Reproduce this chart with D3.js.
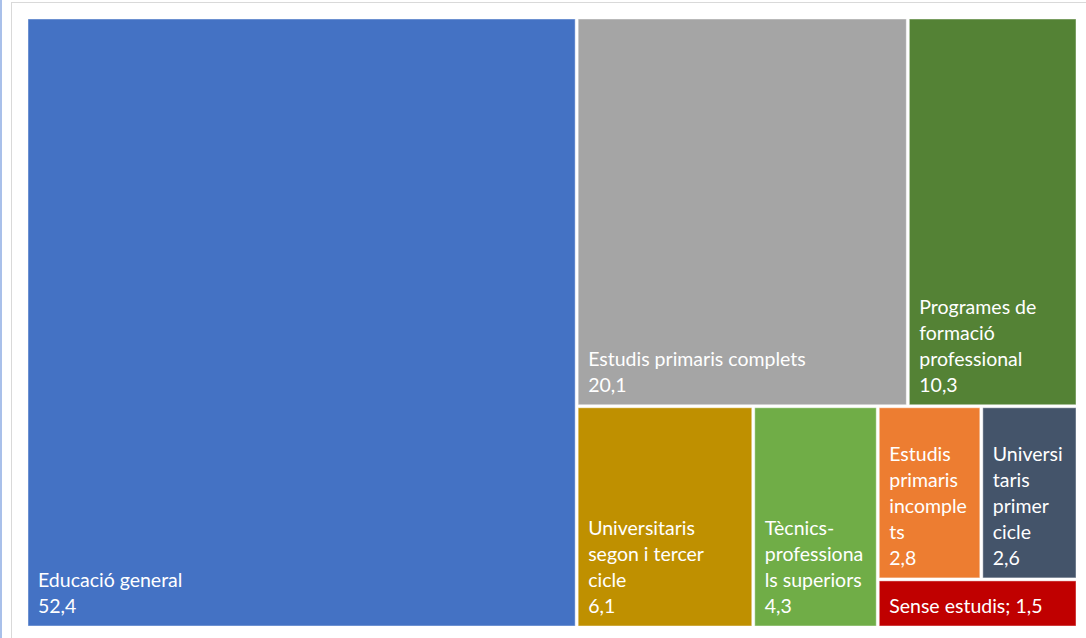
<!DOCTYPE html>
<html lang="ca">
<head>
  <meta charset="UTF-8">
  <title>Treemap</title>
  <style>
  body {
    margin: 0;
    background: #fff;
  }
  .label {
    font: 19.5px Lato, "Open Sans", sans-serif;
    fill: #fff;
  }
  </style>
</head>
<body>
  <svg width="1086" height="638"></svg>
  <script src="https://cdnjs.cloudflare.com/ajax/libs/d3/7.8.5/d3.min.js"></script>
  <script>
  // categories, values and colours (in chart order)
  var categories = ["Educació general", "Estudis primaris complets", "Programes de formació professional",
    "Universitaris segon i tercer cicle", "Tècnics-professionals superiors", "Estudis primaris incomplets",
    "Universitaris primer cicle", "Sense estudis"];
  var values = [52.4, 20.1, 10.3, 6.1, 4.3, 2.8, 2.6, 1.5];
  var colors = ["#4472C4", "#A5A5A5", "#548235", "#BF9000", "#70AD47", "#ED7D31", "#44546A", "#C00000"];
  // labels as the chart wraps them
  var labelLines = [
    ["Educació general"],
    ["Estudis primaris complets"],
    ["Programes de", "formació", "professional"],
    ["Universitaris", "segon i tercer", "cicle"],
    ["Tècnics-", "professiona", "ls superiors"],
    ["Estudis", "primaris", "incomple", "ts"],
    ["Universi", "taris", "primer", "cicle"],
    ["Sense estudis"]
  ];
  var inlineValue = [false, false, false, false, false, false, false, true];

  var svg = d3.select("svg");
  var fmt = function(v) { return d3.format(".1f")(v).replace(".", ","); };

  // screenshot edge + chart frame
  svg.append("rect").attr("x", 0).attr("y", 0).attr("width", 2).attr("height", 638).attr("fill", "#a9c0ea");
  svg.append("rect").attr("x", 11.5).attr("y", 2.5).attr("width", 1090).attr("height", 650)
    .attr("fill", "none").attr("stroke", "#d9d9d9");

  var x0 = 26.5, y0 = 17.5, w = 1051, h = 610;
  var root = d3.hierarchy({children: categories.map(function(c, i) { return {name: c, i: i}; })})
    .sum(function(d) { return d.i === undefined ? 0 : values[d.i]; });

  d3.treemap()
    .tile(d3.treemapSquarify.ratio(1.12))
    .size([w, h])
    .paddingInner(3)
    .paddingOuter(1.5)
    .round(false)(root);

  var g = svg.append("g").attr("transform", "translate(" + x0 + "," + y0 + ")");
  var cell = g.selectAll("g.cell")
    .data(root.leaves())
    .enter().append("g").attr("class", "cell");

  cell.append("rect")
    .attr("x", function(d) { return d.x0; })
    .attr("y", function(d) { return d.y0; })
    .attr("width", function(d) { return d.x1 - d.x0; })
    .attr("height", function(d) { return d.y1 - d.y0; })
    .attr("fill", function(d) { return colors[d.data.i]; })
    .attr("stroke", "rgba(255,255,255,0.45)")
    .attr("stroke-width", 1);

  cell.each(function(d) {
    var i = d.data.i;
    var lines = labelLines[i].slice();
    if (inlineValue[i]) lines[lines.length - 1] += "; " + fmt(values[i]);
    else lines.push(fmt(values[i]));
    var t = d3.select(this).append("text").attr("class", "label");
    var n = lines.length;
    lines.forEach(function(l, k) {
      t.append("tspan")
        .attr("x", d.x0 + 10)
        .attr("y", d.y1 - 13 - (n - 1 - k) * 26)
        .text(l);
    });
  });
  </script>
</body>
</html>
